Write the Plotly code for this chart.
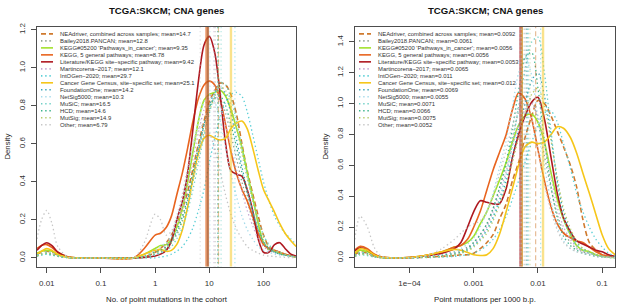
import plotly.graph_objects as go

# ---------------- data ----------------
SERIES = ["NEAdriver, combined across samples", "Bailey2018.PANCAN", "KEGG#05200 'Pathways_in_cancer'",
          "KEGG, 5 general pathways", "Literature/KEGG site\u2212specific pathway", "Martincorena\u22122017",
          "IntOGen\u22122020", "Cancer Gene Census, site\u2212specific set", "FoundationOne", "NetSig5000",
          "MuSiC", "HCD", "MutSig", "Other"]

LEFT_MEANS = [14.7, 12.8, 9.35, 8.78, 9.42, 12.1, 29.7, 25.1, 14.2, 10.3, 16.5, 14.6, 14.9, 6.79]
LEFT_MEAN_TEXT = ["14.7", "12.8", "9.35", "8.78", "9.42", "12.1", "29.7", "25.1", "14.2", "10.3", "16.5", "14.6", "14.9", "6.79"]
RIGHT_MEANS = [0.0092, 0.0061, 0.0056, 0.0056, 0.0053, 0.0065, 0.011, 0.012, 0.0069, 0.0055, 0.0071, 0.0066, 0.0075, 0.0052]
RIGHT_MEAN_TEXT = ["0.0092", "0.0061", "0.0056", "0.0056", "0.0053", "0.0065", "0.011", "0.012", "0.0069", "0.0055", "0.0071", "0.0066", "0.0075", "0.0052"]

# x grid of the left panel (number of point mutations in the cohort)
LEFT_X = [0.0066, 0.008, 0.01, 0.0125, 0.016, 0.025, 0.1, 0.4, 0.63, 1.0, 1.26, 1.6, 2.0, 2.5, 3.2, 4.0, 5.0, 6.3,
          8.0, 10, 12.6, 16, 20, 25, 32, 40, 50, 63, 80, 100, 126, 160, 200, 250, 320, 400]

L_NEADRIVER = [0.02, 0.03, 0.035, 0.03, 0.015, 0.003, 0, 0, 0.005, 0.03, 0.05, 0.08, 0.12, 0.18, 0.26, 0.35, 0.47, 0.6,
               0.72, 0.82, 0.88, 0.92, 0.91, 0.86, 0.75, 0.6, 0.46, 0.34, 0.22, 0.12, 0.06, 0.04, 0.03, 0.02, 0.01, 0.005]
L_BAILEY = [0.015, 0.025, 0.03, 0.025, 0.012, 0.002, 0, 0, 0.01, 0.03, 0.04, 0.06, 0.1, 0.15, 0.22, 0.32, 0.45, 0.58,
            0.7, 0.8, 0.84, 0.83, 0.76, 0.65, 0.52, 0.4, 0.3, 0.2, 0.12, 0.07, 0.04, 0.03, 0.02, 0.015, 0.01, 0.005]
L_KEGG05200 = [0.025, 0.035, 0.04, 0.035, 0.018, 0.003, 0, 0, 0.02, 0.05, 0.065, 0.07, 0.1, 0.16, 0.26, 0.4, 0.56, 0.72,
               0.83, 0.86, 0.87, 0.88, 0.85, 0.78, 0.68, 0.58, 0.45, 0.32, 0.18, 0.08, 0.045, 0.035, 0.025, 0.015, 0.01, 0.005]
L_KEGG5 = [0.05, 0.065, 0.07, 0.055, 0.03, 0.005, 0, 0, 0.05, 0.12, 0.13, 0.16, 0.22, 0.33, 0.45, 0.58, 0.72, 0.84,
           0.91, 0.93, 0.91, 0.83, 0.7, 0.56, 0.44, 0.36, 0.3, 0.22, 0.13, 0.07, 0.05, 0.04, 0.03, 0.02, 0.012, 0.008]
L_LITERATURE = [0.04, 0.065, 0.08, 0.065, 0.03, 0.005, 0, 0, 0.003, 0.01, 0.02, 0.04, 0.09, 0.2, 0.3, 0.45, 0.68, 0.93,
                1.12, 1.165, 1.08, 0.85, 0.6, 0.46, 0.44, 0.43, 0.36, 0.25, 0.1, 0.03, 0.03, 0.07, 0.08, 0.05, 0.02, 0.01]
L_MARTINCORENA = [0.015, 0.025, 0.03, 0.025, 0.012, 0.002, 0, 0, 0.01, 0.04, 0.05, 0.07, 0.11, 0.17, 0.26, 0.38, 0.52, 0.66,
                  0.78, 0.85, 0.86, 0.8, 0.7, 0.58, 0.46, 0.35, 0.25, 0.17, 0.1, 0.06, 0.04, 0.03, 0.02, 0.015, 0.01, 0.005]
L_INTOGEN = [0.01, 0.015, 0.02, 0.015, 0.008, 0.001, 0, 0, 0, 0, 0.005, 0.01, 0.02, 0.035, 0.06, 0.1, 0.16, 0.25,
             0.36, 0.5, 0.63, 0.74, 0.82, 0.86, 0.87, 0.85, 0.77, 0.65, 0.52, 0.4, 0.3, 0.22, 0.17, 0.13, 0.1, 0.07]
L_CGC = [0.02, 0.035, 0.05, 0.04, 0.02, 0.003, 0, 0, 0.02, 0.04, 0.045, 0.035, 0.04, 0.07, 0.15, 0.27, 0.42, 0.55,
         0.63, 0.645, 0.63, 0.62, 0.63, 0.68, 0.71, 0.72, 0.68, 0.58, 0.46, 0.36, 0.3, 0.24, 0.18, 0.13, 0.09, 0.06]
L_FOUNDATIONONE = [0.01, 0.02, 0.025, 0.02, 0.01, 0.002, 0, 0, 0.005, 0.02, 0.03, 0.05, 0.08, 0.13, 0.2, 0.3, 0.42, 0.56,
                   0.7, 0.8, 0.87, 0.9, 0.86, 0.76, 0.62, 0.48, 0.36, 0.25, 0.15, 0.08, 0.05, 0.03, 0.02, 0.015, 0.01, 0.005]
L_NETSIG = [0.015, 0.025, 0.03, 0.025, 0.012, 0.002, 0, 0, 0.01, 0.04, 0.06, 0.08, 0.12, 0.2, 0.3, 0.44, 0.58, 0.72,
            0.82, 0.86, 0.82, 0.72, 0.58, 0.44, 0.32, 0.22, 0.15, 0.1, 0.06, 0.04, 0.03, 0.02, 0.015, 0.01, 0.008, 0.005]
L_MUSIC = [0.01, 0.015, 0.02, 0.015, 0.008, 0.001, 0, 0, 0.003, 0.015, 0.025, 0.04, 0.06, 0.1, 0.16, 0.25, 0.36, 0.5,
           0.64, 0.76, 0.86, 0.92, 0.91, 0.84, 0.72, 0.58, 0.44, 0.31, 0.2, 0.12, 0.07, 0.04, 0.03, 0.02, 0.01, 0.005]
L_HCD = [0.015, 0.02, 0.025, 0.02, 0.01, 0.002, 0, 0, 0.008, 0.03, 0.04, 0.06, 0.09, 0.14, 0.22, 0.32, 0.45, 0.58,
         0.7, 0.79, 0.84, 0.85, 0.8, 0.7, 0.58, 0.45, 0.34, 0.24, 0.15, 0.09, 0.05, 0.03, 0.02, 0.015, 0.01, 0.005]
L_MUTSIG = [0.01, 0.02, 0.025, 0.02, 0.01, 0.002, 0, 0, 0.006, 0.025, 0.035, 0.05, 0.08, 0.12, 0.19, 0.28, 0.4, 0.53,
            0.66, 0.77, 0.85, 0.9, 0.88, 0.8, 0.68, 0.55, 0.42, 0.3, 0.19, 0.11, 0.06, 0.04, 0.03, 0.02, 0.01, 0.005]
L_OTHER = [0.1, 0.2, 0.25, 0.18, 0.06, 0.005, 0, 0, 0.08, 0.23, 0.2, 0.12, 0.14, 0.22, 0.34, 0.48, 0.6, 0.68,
           0.7, 0.66, 0.57, 0.45, 0.33, 0.23, 0.15, 0.1, 0.06, 0.04, 0.025, 0.015, 0.01, 0.008, 0.005, 0.003, 0.002, 0.001]

# x grid of the right panel (point mutations per 1000 b.p.)
RIGHT_X = [1.4e-5, 1.7e-5, 2.2e-5, 2.8e-5, 3.5e-5, 5e-5, 1e-4, 2e-4, 3.2e-4, 5e-4, 6.3e-4, 8e-4, 1e-3, 1.26e-3,
           1.6e-3, 2e-3, 2.5e-3, 3.2e-3, 4e-3, 5e-3, 6.3e-3, 8e-3, 0.01, 0.0126, 0.016, 0.02, 0.025, 0.032, 0.04,
           0.05, 0.063, 0.08, 0.1, 0.126, 0.16]

R_NEADRIVER = [0.02, 0.04, 0.03, 0.01, 0.003, 0, 0, 0.005, 0.01, 0.015, 0.02, 0.02, 0.03, 0.06, 0.1, 0.15, 0.25, 0.35,
               0.5, 0.62, 0.78, 0.92, 1.02, 1.0, 0.92, 0.82, 0.72, 0.6, 0.46, 0.25, 0.1, 0.05, 0.02, 0.01, 0.005]
R_BAILEY = [0.02, 0.035, 0.03, 0.01, 0.003, 0, 0, 0.01, 0.02, 0.04, 0.05, 0.07, 0.1, 0.15, 0.22, 0.32, 0.45, 0.6,
            0.78, 0.95, 1.05, 1.02, 0.88, 0.66, 0.45, 0.28, 0.17, 0.1, 0.06, 0.04, 0.03, 0.02, 0.01, 0.005, 0.002]
R_KEGG05200 = [0.03, 0.05, 0.04, 0.02, 0.005, 0, 0.002, 0.02, 0.04, 0.07, 0.08, 0.1, 0.14, 0.22, 0.3, 0.4, 0.5, 0.62,
               0.75, 0.86, 0.92, 0.93, 0.88, 0.75, 0.55, 0.38, 0.25, 0.15, 0.08, 0.05, 0.04, 0.02, 0.01, 0.005, 0.002]
R_KEGG5 = [0.05, 0.075, 0.06, 0.025, 0.008, 0, 0.002, 0.02, 0.04, 0.07, 0.08, 0.12, 0.2, 0.3, 0.44, 0.57, 0.68, 0.8,
           0.96, 1.07, 1.03, 0.9, 0.7, 0.5, 0.33, 0.22, 0.16, 0.13, 0.11, 0.1, 0.07, 0.04, 0.02, 0.01, 0.005]
R_LITERATURE = [0.045, 0.065, 0.05, 0.02, 0.006, 0, 0.002, 0.015, 0.03, 0.06, 0.1, 0.2, 0.3, 0.37, 0.36, 0.35, 0.35, 0.45,
                0.65, 0.8, 0.92, 1.01, 1.04, 0.9, 0.65, 0.42, 0.26, 0.17, 0.11, 0.09, 0.07, 0.05, 0.04, 0.02, 0.01]
R_MARTINCORENA = [0.015, 0.03, 0.025, 0.01, 0.003, 0, 0, 0.01, 0.02, 0.03, 0.04, 0.06, 0.09, 0.13, 0.2, 0.3, 0.42, 0.56,
                  0.72, 0.86, 0.96, 1.0, 0.92, 0.74, 0.52, 0.33, 0.2, 0.12, 0.07, 0.04, 0.03, 0.02, 0.01, 0.005, 0.002]
R_INTOGEN = [0.01, 0.02, 0.015, 0.005, 0.001, 0, 0, 0.002, 0.005, 0.01, 0.015, 0.02, 0.03, 0.05, 0.08, 0.12, 0.18, 0.27,
             0.38, 0.5, 0.62, 0.75, 0.86, 0.94, 0.95, 0.88, 0.74, 0.58, 0.42, 0.3, 0.2, 0.12, 0.07, 0.03, 0.01]
R_CGC = [0.03, 0.06, 0.05, 0.02, 0.005, 0, 0.002, 0.02, 0.04, 0.055, 0.05, 0.035, 0.02, 0.015, 0.02, 0.06, 0.15, 0.3,
         0.45, 0.6, 0.72, 0.75, 0.74, 0.75, 0.8, 0.85, 0.84, 0.78, 0.68, 0.55, 0.42, 0.28, 0.15, 0.06, 0.02]
R_FOUNDATIONONE = [0.01, 0.025, 0.02, 0.008, 0.002, 0, 0, 0.005, 0.01, 0.02, 0.03, 0.05, 0.08, 0.12, 0.18, 0.26, 0.36, 0.5,
                   0.66, 0.84, 1.0, 1.15, 1.2, 1.05, 0.78, 0.5, 0.3, 0.17, 0.1, 0.06, 0.04, 0.02, 0.01, 0.005, 0.002]
R_NETSIG = [0.015, 0.035, 0.03, 0.01, 0.003, 0, 0, 0.01, 0.02, 0.04, 0.06, 0.09, 0.13, 0.2, 0.3, 0.42, 0.58, 0.76,
            0.98, 1.2, 1.3, 1.18, 0.9, 0.6, 0.36, 0.2, 0.11, 0.06, 0.04, 0.03, 0.02, 0.01, 0.005, 0.003, 0.001]
R_MUSIC = [0.01, 0.025, 0.02, 0.008, 0.002, 0, 0, 0.005, 0.01, 0.02, 0.03, 0.05, 0.08, 0.12, 0.18, 0.27, 0.38, 0.54,
           0.74, 0.98, 1.22, 1.4, 1.43, 1.2, 0.82, 0.48, 0.26, 0.14, 0.08, 0.05, 0.03, 0.02, 0.01, 0.005, 0.002]
R_HCD = [0.015, 0.03, 0.025, 0.01, 0.003, 0, 0, 0.008, 0.015, 0.03, 0.04, 0.06, 0.1, 0.15, 0.22, 0.32, 0.45, 0.62,
         0.84, 1.08, 1.3, 1.33, 1.1, 0.76, 0.46, 0.26, 0.14, 0.08, 0.05, 0.03, 0.02, 0.01, 0.005, 0.003, 0.001]
R_MUTSIG = [0.01, 0.025, 0.02, 0.008, 0.002, 0, 0, 0.005, 0.01, 0.02, 0.03, 0.045, 0.07, 0.11, 0.16, 0.24, 0.34, 0.47,
            0.62, 0.78, 0.94, 1.06, 1.1, 0.98, 0.76, 0.52, 0.32, 0.19, 0.11, 0.06, 0.04, 0.02, 0.01, 0.005, 0.002]
R_OTHER = [0.12, 0.27, 0.2, 0.07, 0.015, 0, 0, 0.02, 0.06, 0.12, 0.16, 0.2, 0.22, 0.24, 0.3, 0.4, 0.54, 0.7,
           0.86, 0.98, 1.0, 0.9, 0.7, 0.48, 0.3, 0.18, 0.1, 0.06, 0.04, 0.03, 0.02, 0.01, 0.005, 0.002, 0.001]

LEFT_Y = [L_NEADRIVER, L_BAILEY, L_KEGG05200, L_KEGG5, L_LITERATURE, L_MARTINCORENA, L_INTOGEN, L_CGC,
          L_FOUNDATIONONE, L_NETSIG, L_MUSIC, L_HCD, L_MUTSIG, L_OTHER]
RIGHT_Y = [R_NEADRIVER, R_BAILEY, R_KEGG05200, R_KEGG5, R_LITERATURE, R_MARTINCORENA, R_INTOGEN, R_CGC,
           R_FOUNDATIONONE, R_NETSIG, R_MUSIC, R_HCD, R_MUTSIG, R_OTHER]

LEFT_TICKS = [0.01, 0.1, 1, 10, 100]
LEFT_TICK_TEXT = ["0.01", "0.1", "1", "10", "100"]
RIGHT_TICKS = [1e-4, 1e-3, 1e-2, 1e-1]
RIGHT_TICK_TEXT = ["1e\u221204", "0.001", "0.01", "0.1"]

# ---------------- styles ----------------
COLORS = ["#CF7A2E", "#92A292", "#A2E22C", "#E8641F", "#AE1820", "#C6A6D2", "#5ACFD6", "#F6C61A",
          "#3AA4B8", "#A6DBEA", "#6FD0C6", "#3AB28A", "#B8CB6A", "#C6C6C6"]
KIND = ["dash", "dot", "solid", "solid", "solid", "dot", "dot", "solid", "dot", "dot", "dot", "dot", "dot", "dot"]
DASHES = {"dash": "5px,3px", "dot": "1.4px,2.8px", "solid": "solid"}
WIDTHS = {"dash": 1.6, "dot": 1.3, "solid": 1.6}

W, H = 617, 305
FONT = "Liberation Sans, Arial, Helvetica, sans-serif"
AX_COL = "#4d4d4d"

# panel boxes in pixels
LBOX = (37, 296)
RBOX = (355, 615)
TOP, BOT = 23, 266

fig = go.Figure()

panels = [("x", "y", LEFT_X, LEFT_Y, LEFT_MEANS), ("x2", "y2", RIGHT_X, RIGHT_Y, RIGHT_MEANS)]
for xa, ya, xs, ys_all, means in panels:
    for i in range(len(SERIES)):
        fig.add_trace(go.Scatter(
            x=xs, y=ys_all[i], xaxis=xa, yaxis=ya, mode="lines",
            line=dict(color=COLORS[i], width=WIDTHS[KIND[i]], dash=DASHES[KIND[i]], shape="spline", smoothing=0.8),
            showlegend=False, hoverinfo="skip"))
    for i in range(len(SERIES)):
        fig.add_trace(go.Scatter(
            x=[means[i], means[i]], y=[-1, 3], xaxis=xa, yaxis=ya, mode="lines",
            line=dict(color=COLORS[i], width=2.4 if KIND[i] == "solid" else 1.2, dash=DASHES[KIND[i]]),
            opacity=0.5, showlegend=False, hoverinfo="skip"))

def px_x(p):
    return p / W

def px_y(p):
    return 1 - p / H

axis_common = dict(showgrid=False, zeroline=False, showline=True, mirror=True, linecolor=AX_COL, linewidth=1,
                   ticks="outside", ticklen=5, tickwidth=1, tickcolor=AX_COL,
                   tickfont=dict(family=FONT, size=8, color="#333"))

fig.update_layout(
    width=W, height=H, margin=dict(l=0, r=0, t=0, b=0),
    paper_bgcolor="white", plot_bgcolor="white", hovermode=False,
    xaxis=dict(type="log", domain=[px_x(LBOX[0]), px_x(LBOX[1])], range=[-2.18, 2.60],
               tickvals=LEFT_TICKS, ticktext=LEFT_TICK_TEXT, anchor="y", ticklabelstandoff=4, **axis_common),
    yaxis=dict(domain=[px_y(BOT), px_y(TOP)], range=[-0.045, 1.216], tickvals=[0, 0.2, 0.4, 0.6, 0.8, 1.0, 1.2],
               ticktext=["0.0", "0.2", "0.4", "0.6", "0.8", "1.0", "1.2"], tickangle=-90, anchor="x",
               ticklabelstandoff=3, **axis_common),
    xaxis2=dict(type="log", domain=[px_x(RBOX[0]), px_x(RBOX[1])], range=[-4.85, -0.80],
                tickvals=RIGHT_TICKS, ticktext=RIGHT_TICK_TEXT, anchor="y2", ticklabelstandoff=4, **axis_common),
    yaxis2=dict(domain=[px_y(BOT), px_y(TOP)], range=[-0.056, 1.498], tickvals=[0, 0.2, 0.4, 0.6, 0.8, 1.0, 1.2, 1.4],
                ticktext=["0.0", "0.2", "0.4", "0.6", "0.8", "1.0", "1.2", "1.4"], tickangle=-90, anchor="x2",
                ticklabelstandoff=3, **axis_common),
)

annotations = []
shapes = []
# titles and axis labels
for box, xlabel in [(LBOX, "No. of point mutations in the cohort"), (RBOX, "Point mutations per 1000 b.p.")]:
    cx = (box[0] + box[1]) / 2
    annotations.append(dict(text="<b>TCGA:SKCM; CNA genes</b>", x=px_x(cx), y=px_y(7), xref="paper", yref="paper",
                            showarrow=False, xanchor="center", yanchor="middle",
                            font=dict(family=FONT, size=9.6, color="#111")))
    annotations.append(dict(text=xlabel, x=px_x(cx), y=px_y(299), xref="paper", yref="paper", showarrow=False,
                            xanchor="center", yanchor="middle", font=dict(family=FONT, size=7.8, color="#222")))
    annotations.append(dict(text="Density", x=px_x(box[0] - 29), y=px_y((TOP + BOT) / 2), xref="paper", yref="paper",
                            showarrow=False, textangle=-90, xanchor="center", yanchor="middle",
                            font=dict(family=FONT, size=7.8, color="#222")))

# legends
for box, mtxt in [(LBOX, LEFT_MEAN_TEXT), (RBOX, RIGHT_MEAN_TEXT)]:
    for i, name in enumerate(SERIES):
        yy = 30.3 + i * 7.08
        shapes.append(dict(type="line", xref="paper", yref="paper",
                           x0=px_x(box[0] + 4), x1=px_x(box[0] + 16), y0=px_y(yy), y1=px_y(yy),
                           line=dict(color=COLORS[i], width=1.6, dash=DASHES[KIND[i]])))
        annotations.append(dict(text=f"{name}; mean={mtxt[i]}", x=px_x(box[0] + 20.5), y=px_y(yy),
                                xref="paper", yref="paper", showarrow=False, xanchor="left", yanchor="middle",
                                font=dict(family=FONT, size=5.9, color="#333")))

fig.update_layout(annotations=annotations, shapes=shapes)
fig.write_html("out.html", config={"displayModeBar": False, "staticPlot": True},
               post_script="document.body.style.margin='0';document.body.style.overflow='hidden';")
